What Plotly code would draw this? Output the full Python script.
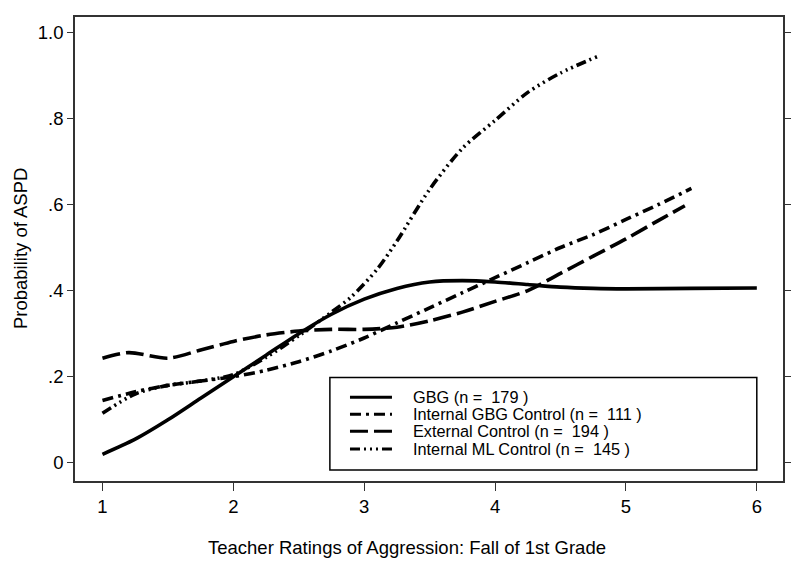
import plotly.graph_objects as go

# teacher ratings (x) and predicted probability of ASPD per group
gbg_x = [1, 1.25, 1.5, 1.75, 2, 2.25, 2.5, 2.75, 3, 3.25, 3.5, 3.75, 4, 4.25, 4.5, 4.75, 5, 5.5, 6]
gbg_y = [0.02, 0.055, 0.10, 0.15, 0.20, 0.25, 0.30, 0.345, 0.38, 0.405, 0.42, 0.423, 0.42, 0.414, 0.408, 0.405, 0.404, 0.405, 0.406]

igbg_x = [1, 1.25, 1.5, 1.75, 2, 2.25, 2.5, 2.75, 3, 3.25, 3.5, 3.75, 4, 4.25, 4.5, 4.75, 5, 5.25, 5.5]
igbg_y = [0.145, 0.165, 0.18, 0.19, 0.20, 0.215, 0.235, 0.26, 0.29, 0.325, 0.36, 0.395, 0.43, 0.465, 0.50, 0.53, 0.565, 0.60, 0.637]

ext_x = [1, 1.2, 1.5, 1.75, 2, 2.25, 2.5, 2.75, 3, 3.25, 3.5, 3.75, 4, 4.25, 4.5, 4.75, 5, 5.25, 5.45]
ext_y = [0.243, 0.256, 0.243, 0.262, 0.282, 0.297, 0.306, 0.31, 0.31, 0.315, 0.33, 0.35, 0.375, 0.40, 0.44, 0.48, 0.52, 0.563, 0.597]

ml_x = [1, 1.25, 1.5, 1.75, 2, 2.25, 2.5, 2.75, 2.9, 3.1, 3.25, 3.5, 3.75, 4, 4.25, 4.5, 4.78]
ml_y = [0.115, 0.16, 0.18, 0.19, 0.205, 0.245, 0.295, 0.35, 0.385, 0.45, 0.515, 0.635, 0.73, 0.795, 0.86, 0.905, 0.943]

names = ['GBG (n =  179 )', 'Internal GBG Control (n =  111 )',
         'External Control (n =  194 )', 'Internal ML Control (n =  145 )']
dashes = ['solid', '11px,5px,3px,5px', '18px,6px', '10px,4px,2px,4px,2px,4px,2px,4px']

x_ticks = [1, 2, 3, 4, 5, 6]
y_ticks = [0, 0.2, 0.4, 0.6, 0.8, 1.0]
y_labels = ['0', '.2', '.4', '.6', '.8', '1.0']

FONT = 'Liberation Sans, Arial, sans-serif'

fig = go.Figure()
for xs, ys, nm, ds in zip([gbg_x, igbg_x, ext_x, ml_x], [gbg_y, igbg_y, ext_y, ml_y], names, dashes):
    fig.add_trace(go.Scatter(x=xs, y=ys, name=nm, mode='lines', showlegend=False,
                             line=dict(color='black', width=3.6, dash=ds, shape='spline', smoothing=0.8)))

# hand made legend box (rows spaced tighter than plotly's legend allows)
fig.add_shape(type='rect', xref='paper', yref='paper',
              x0=0.360, x1=0.963, y0=0.0236, y1=0.2232,
              line=dict(color='black', width=1.5), fillcolor='white', layer='below')
row_y = [0.1803, 0.1438, 0.1073, 0.0687]
for ry, nm, ds in zip(row_y, names, dashes):
    fig.add_shape(type='line', xref='paper', yref='paper', x0=0.3884, x1=0.4477, y0=ry, y1=ry,
                  line=dict(color='black', width=3, dash=ds))
    fig.add_annotation(text=nm, xref='paper', yref='paper', x=0.4746, y=ry, xanchor='left',
                       yanchor='middle', showarrow=False, font=dict(size=16.3, family=FONT))

fig.add_annotation(text='Teacher Ratings of Aggression: Fall of 1st Grade', xref='paper', yref='paper',
                   x=0.4696, y=-0.1438, xanchor='center', yanchor='middle', showarrow=False,
                   font=dict(size=18.5, family=FONT))
fig.add_annotation(text='Probability of ASPD', xref='paper', yref='paper', textangle=-90,
                   x=-0.0777, y=0.502, xanchor='center', yanchor='middle', showarrow=False,
                   font=dict(size=18.5, family=FONT))

# page body has an 8px margin, so figure is 8px smaller to fit the window
fig.update_layout(
    width=792, height=557,
    margin=dict(l=67, r=17, t=7, b=84),
    plot_bgcolor='white', paper_bgcolor='white',
    font=dict(family=FONT, color='black'),
    showlegend=False,
    xaxis=dict(range=[0.79, 6.2], tickvals=x_ticks, ticks='outside', ticklen=8,
               tickcolor='#333', showline=True, linecolor='#333', linewidth=1.5,
               mirror=True, showgrid=False, zeroline=False, tickfont=dict(size=18.5)),
    yaxis=dict(range=[-0.042, 1.035], tickvals=y_ticks, ticktext=y_labels, ticks='outside',
               ticklen=6, tickcolor='#333', showline=True, linecolor='#333', linewidth=1.5,
               mirror='ticks', showgrid=False, zeroline=False, tickfont=dict(size=18.5)),
)

fig.write_html('out.html')
